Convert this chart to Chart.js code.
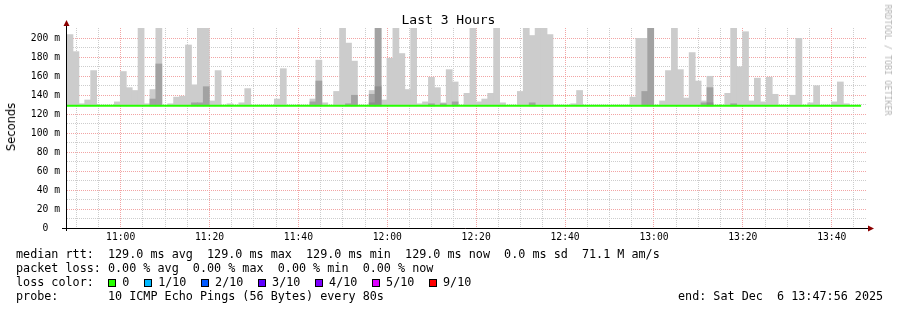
<!DOCTYPE html>
<html>
<head>
<meta charset="utf-8">
<script src="https://cdn.jsdelivr.net/npm/chart.js@4/dist/chart.umd.min.js"></script>
<style>
  html, body { margin: 0; padding: 0; background: #fff; }
  #wrap { position: relative; width: 897px; height: 310px; overflow: hidden;
          font-family: "DejaVu Sans Mono", monospace; color: #000; }
  #c { position: absolute; left: 0; top: 0; }
  .txt { position: absolute; white-space: pre; font-size: 11.76px; line-height: 14px; }
  #title { position: absolute; left: 0; top: 12px; width: 897px; text-align: center;
           font-size: 13px; line-height: 16px; white-space: pre; }
  #ytitle { position: absolute; left: 11px; top: 127px; transform: translate(-50%, -50%) rotate(-90deg);
            font-family: "DejaVu Sans", sans-serif; font-size: 11.5px; white-space: pre; }
  #brand { position: absolute; left: 888px; top: 60px; transform: translate(-50%, -50%) rotate(90deg);
           font-size: 8.4px; color: #b4b4b4; white-space: pre; }
  .sw { display: inline-block; width: 6px; height: 6px; border: 1px solid #000;
        margin-right: 6.4px; vertical-align: -0.5px; }
  .it { margin-right: 14.3px; }
</style>
</head>
<body>
<div id="wrap">
  <canvas id="c" width="897" height="310"></canvas>
  <div id="title">Last 3 Hours</div>
  <div id="ytitle">Seconds</div>
  <div id="brand">RRDTOOL / TOBI OETIKER</div>
  <div class="txt" style="left:16px; top:247px">median rtt:  129.0 ms avg  129.0 ms max  129.0 ms min  129.0 ms now  0.0 ms sd  71.1 M am/s</div>
  <div class="txt" style="left:16px; top:261px">packet loss: 0.00 % avg  0.00 % max  0.00 % min  0.00 % now</div>
  <div class="txt" style="left:16px; top:275px">loss color:  <span id="loss"></span></div>
  <div class="txt" style="left:16px; top:289px">probe:       10 ICMP Echo Pings (56 Bytes) every 80s</div>
  <div class="txt" style="left:678px; top:289px">end: Sat Dec  6 13:47:56 2025</div>
</div>
<script>
const _ = null;

// 3 hour window, one value per 80 s step
const windowStart = '10:47:56';
const windowMinutes = 180;
const stepSeconds = 80;

// time axis labels (major grid every 20 min)
const timeLabels = ['11:00', '11:20', '11:40', '12:00', '12:20', '12:40', '13:00', '13:20', '13:40'];

// median rtt (ms) per step
const medianRtt = [
  129,129,129,129,129,129,129,129,129,129, 129,129,129,129,129,129,129,129,129,129,
  129,129,129,129,129,129,129,129,129,129, 129,129,129,129,129,129,129,129,129,129,
  129,129,129,129,129,129,129,129,129,129, 129,129,129,129,129,129,129,129,129,129,
  129,129,129,129,129,129,129,129,129,129, 129,129,129,129,129,129,129,129,129,129,
  129,129,129,129,129,129,129,129,129,129, 129,129,129,129,129,129,129,129,129,129,
  129,129,129,129,129,129,129,129,129,129, 129,129,129,129,129,129,129,129,129,129,
  129,129,129,129,129,129,129,129,129,129, 129,129,129,129
];

// smoke: highest ping per step (ms)
const smokeHigh = [
  204, 186, 131, 135, 166, _, _, _, 133, 165,
  148, 145, 211, 131, 146, 211, _, 131, 138, 139,
  193, 151, 211, 211, 134, 166, _, 131, _, 132,
  147, _, _, _, _, 136, 168, _, _, _,
  _, 136, 177, 132, _, 144, 211, 195, 176, _,
  _, 145, 211, 135, 179, 211, 184, 146, 211, 131,
  133, 159, 148, 132, 167, 154, _, 142, 211, 133,
  136, 142, 211, 132, _, _, 144, 211, 203, 211,
  211, 204, _, _, _, 131, 145, _, _, _,
  _, _, _, _, _, 138, 200, 200, 211, _,
  134, 166, 211, 167, 137, 185, 155, 134, 160, _,
  _, 142, 211, 170, 207, 134, 158, 133, 159, 141,
  _, _, 140, 200, _, 132, 150, _, _, 133,
  154, 131, _, _
];

// smoke: denser middle band (ms)
const smokeMid = [
  _, _, _, _, _, _, _, _, _, _,
  _, _, _, _, 136, 173, _, _, _, _,
  _, 132, 132, 149, _, _, _, _, _, _,
  _, _, _, _, _, _, _, _, _, _,
  _, 133, 155, _, _, _, _, 131, 140, _,
  _, 141, 211, _, _, _, _, _, _, _,
  _, 131, _, 131, _, 133, _, _, _, _,
  _, _, _, _, _, _, _, _, 132, _,
  _, _, _, _, _, _, _, _, _, _,
  _, _, _, _, _, _, _, 144, 211, _,
  _, _, _, _, _, _, _, 132, 148, _,
  _, _, 131, _, _, _, _, _, _, _,
  _, _, _, _, _, _, _, _, _, _,
  _, _, _, _
];

// smoke: densest band (ms)
const smokeLow = [
  _, _, _, _, _, _, _, _, _, _,
  _, _, _, _, _, _, _, _, _, _,
  _, _, _, _, _, _, _, _, _, _,
  _, _, _, _, _, _, _, _, _, _,
  _, _, _, _, _, _, _, _, _, _,
  _, 132, 149, _, _, _, _, _, _, _,
  _, _, _, _, _, _, _, _, _, _,
  _, _, _, _, _, _, _, _, _, _,
  _, _, _, _, _, _, _, _, _, _,
  _, _, _, _, _, _, _, _, _, _,
  _, _, _, _, _, _, _, _, 132, _,
  _, _, _, _, _, _, _, _, _, _,
  _, _, _, _, _, _, _, _, _, _,
  _, _, _, _
];

const lossLabels = ['0', '1/10', '2/10', '3/10', '4/10', '5/10', '9/10'];
const lossColors = ['#26ff00', '#00b8ff', '#0059ff', '#5e00ff', '#7e00ff', '#dd00ff', '#ff0000'];

document.getElementById('loss').innerHTML = lossLabels.map((l, i) =>
  '<span class="it"><span class="sw" style="background:' + lossColors[i] + '"></span>' + l + '</span>').join('');

function toMin(hhmm) {
  const p = hhmm.split(':').map(Number);
  const s = windowStart.split(':').map(Number);
  return (p[0] * 60 + p[1] + (p[2] || 0) / 60) - (s[0] * 60 + s[1] + s[2] / 60);
}

const stepMin = stepSeconds / 60;
const majorMinutes = timeLabels.map(toMin);
const gridMinutes = [];
for (let t = majorMinutes[0] - 10; t <= windowMinutes; t += 5) {
  if (t >= 0) gridMinutes.push(t);
}
const isMajor = v => majorMinutes.some(m => Math.abs(m - v) < 0.01);

function smokePoints(arr) {
  return arr.map((v, k) => v == null ? null : { x: (k + 0.5) * stepMin, y: [medianRtt[k], v] })
            .filter(p => p);
}

const medianPoints = medianRtt.map((v, k) => ({ x: k * stepMin, y: v }));
medianPoints.push({ x: medianRtt.length * stepMin, y: medianRtt[medianRtt.length - 1] });

const RED = '#f2a4a4';
const GRAY = '#cdcdcd';
const MONO = 'DejaVu Sans Mono';

const axisArrows = {
  id: 'axisArrows',
  afterDatasetsDraw(chart) {
    const { ctx, chartArea: a } = chart;
    ctx.save();
    ctx.strokeStyle = '#000';
    ctx.lineWidth = 1;
    ctx.beginPath();
    ctx.moveTo(a.left - 5, a.bottom + 0.5);
    ctx.lineTo(a.right + 2, a.bottom + 0.5);
    ctx.moveTo(a.left - 0.5, a.bottom + 3);
    ctx.lineTo(a.left - 0.5, a.top - 4);
    ctx.stroke();
    ctx.fillStyle = '#8b0000';
    ctx.beginPath();
    ctx.moveTo(a.right + 1, a.bottom - 2.5);
    ctx.lineTo(a.right + 7, a.bottom + 0.5);
    ctx.lineTo(a.right + 1, a.bottom + 3.5);
    ctx.closePath();
    ctx.fill();
    ctx.beginPath();
    ctx.moveTo(a.left - 3.5, a.top - 2);
    ctx.lineTo(a.left - 0.5, a.top - 8);
    ctx.lineTo(a.left + 2.5, a.top - 2);
    ctx.closePath();
    ctx.fill();
    ctx.restore();
  }
};

const barOpts = { type: 'bar', grouped: false, barPercentage: 1, categoryPercentage: 1, borderWidth: 0, inflateAmount: 0.4 };

new Chart(document.getElementById('c').getContext('2d'), {
  data: {
    datasets: [
      { ...barOpts, label: 'low', data: smokePoints(smokeLow), backgroundColor: '#8e8e8e', order: 2 },
      { ...barOpts, label: 'mid', data: smokePoints(smokeMid), backgroundColor: '#a2a2a2', order: 3 },
      { ...barOpts, label: 'high', data: smokePoints(smokeHigh), backgroundColor: '#cccccc', order: 4 },
      { type: 'line', label: 'median rtt', data: medianPoints, borderColor: '#26ff00', borderWidth: 2,
        pointRadius: 0, stepped: 'after', order: 1 }
    ]
  },
  options: {
    responsive: false,
    animation: false,
    devicePixelRatio: 1,
    layout: { padding: { left: 0, top: 28, right: 30, bottom: 62 } },
    plugins: { legend: { display: false }, tooltip: { enabled: false } },
    scales: {
      x: {
        type: 'linear', min: 0, max: windowMinutes, offset: false,
        afterBuildTicks: s => { s.ticks = gridMinutes.map(v => ({ value: v })); },
        afterFit: s => { s.height = 20; },
        ticks: {
          autoSkip: false, maxRotation: 0, padding: 4, color: '#000',
          font: { family: MONO, size: 9.7 },
          callback: v => {
            const i = majorMinutes.findIndex(m => Math.abs(m - v) < 0.01);
            return i >= 0 ? timeLabels[i] : '';
          }
        },
        grid: { offset: false, drawTicks: false, lineWidth: 1,
                color: c => (c.tick && isMajor(c.tick.value)) ? RED : GRAY },
        border: { display: false, dash: [1, 1] }
      },
      y: {
        min: 0, max: 211,
        afterBuildTicks: s => { s.ticks = s.ticks.filter(t => t.value % 10 === 0); },
        afterFit: s => { s.width = 67; },
        ticks: {
          stepSize: 10, autoSkip: false, padding: 7, color: '#000',
          font: { family: MONO, size: 9.7 },
          callback: v => v % 20 ? '' : (v === 0 ? '0  ' : v + ' m')
        },
        grid: { drawTicks: false, lineWidth: 1, color: c => (c.tick && c.tick.value % 20 === 0) ? RED : GRAY },
        border: { display: false, dash: [1, 1] }
      }
    }
  },
  plugins: [axisArrows]
});
</script>
</body>
</html>
